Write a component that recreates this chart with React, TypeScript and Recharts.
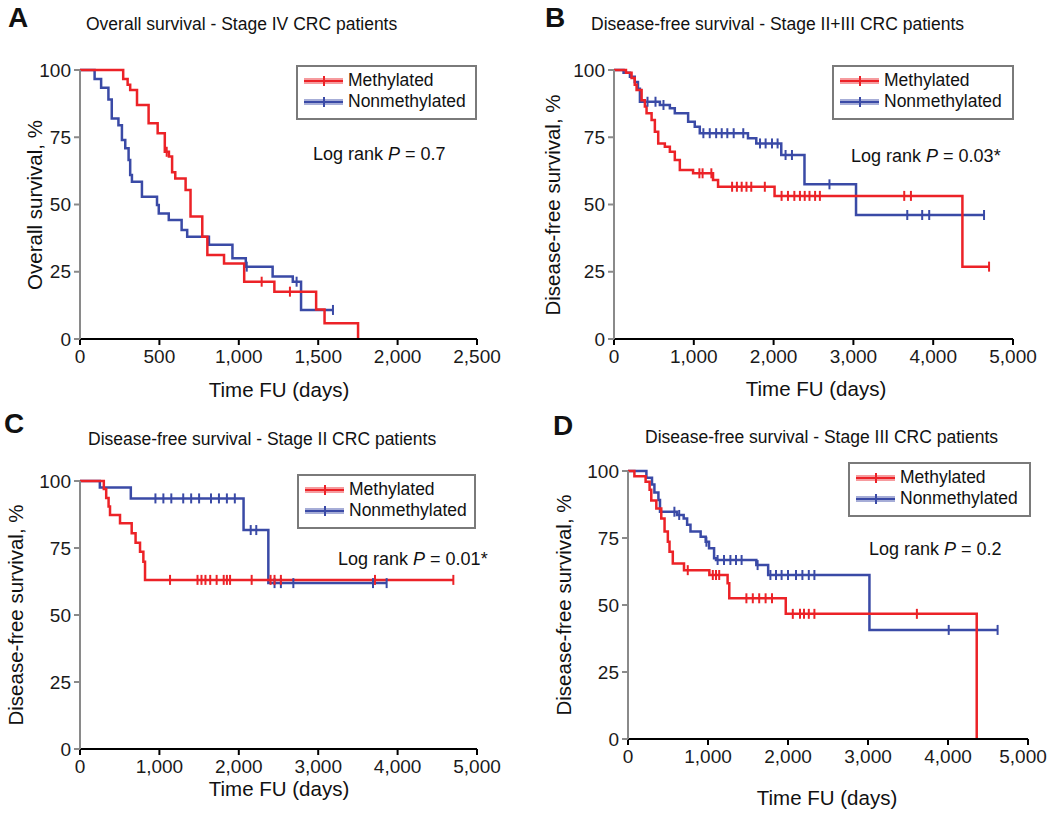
import React from 'react';
import { ComposedChart, Line, XAxis, YAxis } from 'recharts';

type Pt = [number, number];

const RED = '#ec2227';
const BLUE = '#3a4aa6';
const FONT = '"Liberation Sans", Arial, sans-serif';

const SURV_TICKS = [0, 25, 50, 75, 100];
const TICKS_2500 = [0, 500, 1000, 1500, 2000, 2500];
const TICKS_5000 = [0, 1000, 2000, 3000, 4000, 5000];

// Panel A – overall survival, stage IV
const A_MET: Pt[] = [[0, 100], [272, 96.7], [300, 94.5], [316, 92.6], [359, 87], [432, 80.2], [489, 76.5], [534, 69.6], [560, 67.8], [580, 62], [600, 59.7], [665, 55.4], [696, 45.5], [770, 38], [802, 31.2], [907, 28.1], [1034, 21.3], [1224, 17.6], [1487, 11], [1540, 5.9], [1751, 0]];
const A_MET_CENS: number[] = [546, 1144, 1322];
const A_NON: Pt[] = [[0, 100], [92, 96.7], [133, 93.4], [179, 89], [200, 82], [242, 79.5], [264, 74], [285, 70.9], [306, 66.5], [316, 61], [327, 58.5], [390, 52.9], [485, 49.8], [496, 46.7], [559, 44.2], [640, 40.5], [675, 38], [812, 35], [960, 30], [1044, 26.9], [1213, 23.2], [1340, 21.3], [1392, 10.8]];
const A_NON_CENS: number[] = [1050, 1364, 1593];

// Panel B – DFS, stage II+III
const B_MET: Pt[] = [[0, 100], [150, 99], [220, 97], [260, 94.5], [283, 92.6], [346, 88.8], [387, 86.4], [408, 83.9], [471, 81.4], [512, 77], [554, 72.7], [637, 71.5], [700, 69.6], [762, 66.5], [825, 62.8], [991, 61.6], [1241, 59.1], [1304, 56.6], [2012, 53.2], [4366, 26.9]];
const B_MET_CENS: number[] = [1070, 1110, 1220, 1480, 1540, 1600, 1660, 1720, 1890, 2100, 2180, 2260, 2330, 2390, 2450, 2520, 2580, 3637, 3721, 4700];
const B_NON: Pt[] = [[0, 100], [120, 99], [200, 97.5], [260, 95.5], [300, 93], [325, 88.2], [575, 87], [700, 85.8], [762, 83.9], [929, 80.8], [1012, 78.9], [1075, 76.5], [1679, 74.6], [1783, 72.7], [2096, 68.4], [2387, 57.5], [3033, 46.1]];
const B_NON_CENS: number[] = [420, 520, 620, 1120, 1200, 1280, 1350, 1420, 1500, 1620, 1830, 1900, 1980, 2050, 2150, 2230, 2700, 3675, 3862, 3950, 4637];

// Panel C – DFS, stage II
const C_MET: Pt[] = [[0, 100], [300, 97], [330, 93.7], [360, 90.5], [378, 87.3], [504, 84.2], [651, 80.5], [700, 77], [756, 73.6], [798, 69.9], [819, 63.1]];
const C_MET_CENS: number[] = [1134, 1480, 1530, 1580, 1640, 1721, 1810, 1850, 1890, 2162, 2400, 2450, 2530, 3715, 4702];
const C_NON: Pt[] = [[0, 100], [250, 97.6], [640, 93.5], [2060, 81.7], [2372, 61.9]];
const C_NON_CENS: number[] = [950, 1050, 1150, 1300, 1400, 1500, 1650, 1750, 1850, 1950, 2150, 2220, 2450, 2530, 2687, 3690, 3862];

// Panel D – DFS, stage III
const D_MET: Pt[] = [[0, 100], [80, 98], [220, 96], [270, 93], [291, 89], [354, 86], [416, 82.3], [457, 77.4], [498, 73.6], [519, 69.9], [560, 65.5], [700, 63], [1017, 61.2], [1245, 58.1], [1266, 52.5], [1972, 46.7], [4359, 0]];
const D_MET_CENS: number[] = [747, 1060, 1100, 1140, 1480, 1560, 1640, 1720, 1800, 2060, 2150, 2200, 2260, 2330, 3611];
const D_NON: Pt[] = [[0, 100], [230, 97.5], [300, 95], [330, 92], [380, 89.2], [400, 84.8], [612, 83.6], [696, 82.3], [739, 79.9], [781, 77.4], [908, 75.5], [971, 73.6], [1013, 71.2], [1076, 67.4], [1100, 66.8], [1604, 64.9], [1752, 61.2], [3018, 40.7]];
const D_NON_CENS: number[] = [580, 640, 980, 1120, 1200, 1280, 1350, 1420, 1620, 1780, 1850, 1920, 2000, 2100, 2180, 2260, 2330, 4009, 4620];

type P = { t: number; s: number; c: boolean };

function stepValue(ev: Pt[], t: number): number {
  let s = ev[0][1];
  for (const [et, es] of ev) if (et <= t) s = es;
  return s;
}

function build(ev: Pt[], cens: number[]): P[] {
  const pts: P[] = ev.map(([t, s]) => ({ t, s, c: false }));
  cens.forEach((t) => pts.push({ t, s: stepValue(ev, t), c: true }));
  pts.sort((a, b) => a.t - b.t || (a.c ? 1 : 0) - (b.c ? 1 : 0));
  return pts;
}

const censorDot = (color: string) => (props: any) => {
  const { cx, cy, payload, index } = props;
  if (!payload || !payload.c || cx == null) return <g key={`d${index}`} />;
  return <line key={`d${index}`} x1={cx} x2={cx} y1={cy - 5} y2={cy + 5} stroke={color} strokeWidth={2} />;
};

const fmt = (v: number) => v.toLocaleString('en-US');

const xTick = (xMax: number, lastDx: number) => (props: any) => {
  const { x, y, payload } = props;
  const dx = payload.value === xMax ? lastDx : 0;
  return (
    <text x={x + dx} y={y} dy="0.71em" textAnchor="middle" fontSize={19} fill="#1a1a1a" fontFamily={FONT}>
      {fmt(payload.value)}
    </text>
  );
};

type PanelProps = {
  box: [number, number, number, number];
  plot: [number, number, number, number];
  xMax: number;
  xTicks: number[];
  lastDx?: number;
  met: Pt[];
  metC: number[];
  non: Pt[];
  nonC: number[];
};

function Panel({ box, plot, xMax, xTicks, lastDx = 0, met, metC, non, nonC }: PanelProps) {
  const [L, T, W, H] = box;
  const [x0, x1, y0, y1] = plot;
  const YW = 60;
  const XH = 30;
  const margin = { left: x0 - L - YW, right: L + W - x1, top: y0 - T, bottom: T + H - y1 - XH };
  return (
    <div style={{ position: 'absolute', left: L, top: T }}>
      <ComposedChart width={W} height={H} margin={margin}>
        <XAxis
          type="number"
          dataKey="t"
          domain={[0, xMax]}
          ticks={xTicks}
          interval={0}
          allowDataOverflow
          height={XH}
          stroke="#000"
          strokeWidth={2}
          tickSize={6}
          tickMargin={5}
          tick={xTick(xMax, lastDx)}
        />
        <YAxis
          type="number"
          dataKey="s"
          domain={[0, 100]}
          ticks={SURV_TICKS}
          interval={0}
          width={YW}
          stroke="#8a8a8a"
          strokeWidth={2}
          tickSize={6}
          tickMargin={3}
          tick={{ fill: '#1a1a1a', fontSize: 19, fontFamily: FONT }}
        />
        <Line data={build(non, nonC)} dataKey="s" type="stepAfter" stroke={BLUE} strokeWidth={2.5} dot={censorDot(BLUE)} activeDot={false} isAnimationActive={false} />
        <Line data={build(met, metC)} dataKey="s" type="stepAfter" stroke={RED} strokeWidth={2.5} dot={censorDot(RED)} activeDot={false} isAnimationActive={false} />
      </ComposedChart>
    </div>
  );
}

function Legend({ x, y, w }: { x: number; y: number; w: number }) {
  const row = (cy: number, color: string, label: string) => (
    <g>
      <line x1={x + 7} x2={x + 46} y1={cy} y2={cy} stroke={color} strokeOpacity={0.45} strokeWidth={6} />
      <line x1={x + 7} x2={x + 46} y1={cy} y2={cy} stroke={color} strokeWidth={2} />
      <line x1={x + 27} x2={x + 27} y1={cy - 5} y2={cy + 5} stroke={color} strokeWidth={2} />
      <text x={x + 51} y={cy} dominantBaseline="middle" fontSize={17.5} fill="#111" fontFamily={FONT}>{label}</text>
    </g>
  );
  return (
    <g>
      <rect x={x} y={y} width={w} height={53} fill="#fff" stroke="#7a7a7a" strokeWidth={2} />
      {row(y + 15, RED, 'Methylated')}
      {row(y + 36, BLUE, 'Nonmethylated')}
    </g>
  );
}

function LogRank({ x, y, p }: { x: number; y: number; p: string }) {
  return (
    <text x={x} y={y} dominantBaseline="middle" fontSize={18} fill="#111" fontFamily={FONT}>
      Log rank <tspan fontStyle="italic">P</tspan> = {p}
    </text>
  );
}

export default function App() {
  const txt = { fontFamily: FONT, fill: '#111' } as const;
  return (
    <div style={{ position: 'absolute', left: 0, top: 0, width: 1050, height: 813, background: '#fff', overflow: 'hidden' }}>
      <Panel box={[0, 0, 530, 420]} plot={[80, 477, 70, 339]} xMax={2500} xTicks={TICKS_2500} met={A_MET} metC={A_MET_CENS} non={A_NON} nonC={A_NON_CENS} />
      <Panel box={[530, 0, 520, 420]} plot={[614, 1013, 70, 339]} xMax={5000} xTicks={TICKS_5000} met={B_MET} metC={B_MET_CENS} non={B_NON} nonC={B_NON_CENS} />
      <Panel box={[0, 420, 530, 393]} plot={[80, 477, 481, 749]} xMax={5000} xTicks={TICKS_5000} met={C_MET} metC={C_MET_CENS} non={C_NON} nonC={C_NON_CENS} />
      <Panel box={[530, 420, 520, 393]} plot={[628, 1028, 471, 739]} xMax={5000} xTicks={TICKS_5000} lastDx={-5} met={D_MET} metC={D_MET_CENS} non={D_NON} nonC={D_NON_CENS} />
      <svg width={1050} height={813} style={{ position: 'absolute', left: 0, top: 0, pointerEvents: 'none' }}>
        <text x={8} y={20} dominantBaseline="middle" fontSize={28} fontWeight="bold" {...txt}>A</text>
        <text x={545} y={20} dominantBaseline="middle" fontSize={28} fontWeight="bold" {...txt}>B</text>
        <text x={4} y={426} dominantBaseline="middle" fontSize={28} fontWeight="bold" {...txt}>C</text>
        <text x={553} y={428} dominantBaseline="middle" fontSize={28} fontWeight="bold" {...txt}>D</text>

        <text x={86} y={25} dominantBaseline="middle" fontSize={17.5} {...txt}>Overall survival - Stage IV CRC patients</text>
        <text x={591} y={25} dominantBaseline="middle" fontSize={17.5} {...txt}>Disease-free survival - Stage II+III CRC patients</text>
        <text x={88} y={440} dominantBaseline="middle" fontSize={17.5} {...txt}>Disease-free survival - Stage II CRC patients</text>
        <text x={645} y={438} dominantBaseline="middle" fontSize={17.5} {...txt}>Disease-free survival - Stage III CRC patients</text>

        <text x={279} y={392} textAnchor="middle" dominantBaseline="middle" fontSize={20.5} {...txt}>Time FU (days)</text>
        <text x={816} y={391} textAnchor="middle" dominantBaseline="middle" fontSize={20.5} {...txt}>Time FU (days)</text>
        <text x={279} y={791} textAnchor="middle" dominantBaseline="middle" fontSize={20.5} {...txt}>Time FU (days)</text>
        <text x={827} y={800} textAnchor="middle" dominantBaseline="middle" fontSize={20.5} {...txt}>Time FU (days)</text>

        <text transform="translate(37,205) rotate(-90)" textAnchor="middle" dominantBaseline="middle" fontSize={20.5} {...txt}>Overall survival, %</text>
        <text transform="translate(555,205) rotate(-90)" textAnchor="middle" dominantBaseline="middle" fontSize={20.5} {...txt}>Disease-free survival, %</text>
        <text transform="translate(18,615) rotate(-90)" textAnchor="middle" dominantBaseline="middle" fontSize={20.5} {...txt}>Disease-free survival, %</text>
        <text transform="translate(566,605) rotate(-90)" textAnchor="middle" dominantBaseline="middle" fontSize={20.5} {...txt}>Disease-free survival, %</text>

        <Legend x={297} y={66} w={179} />
        <Legend x={833} y={66} w={180} />
        <Legend x={298} y={475} w={177} />
        <Legend x={849} y={463} w={181} />

        <LogRank x={313} y={155} p="0.7" />
        <LogRank x={851} y={157} p="0.03*" />
        <LogRank x={338} y={560} p="0.01*" />
        <LogRank x={869} y={550} p="0.2" />
      </svg>
    </div>
  );
}
